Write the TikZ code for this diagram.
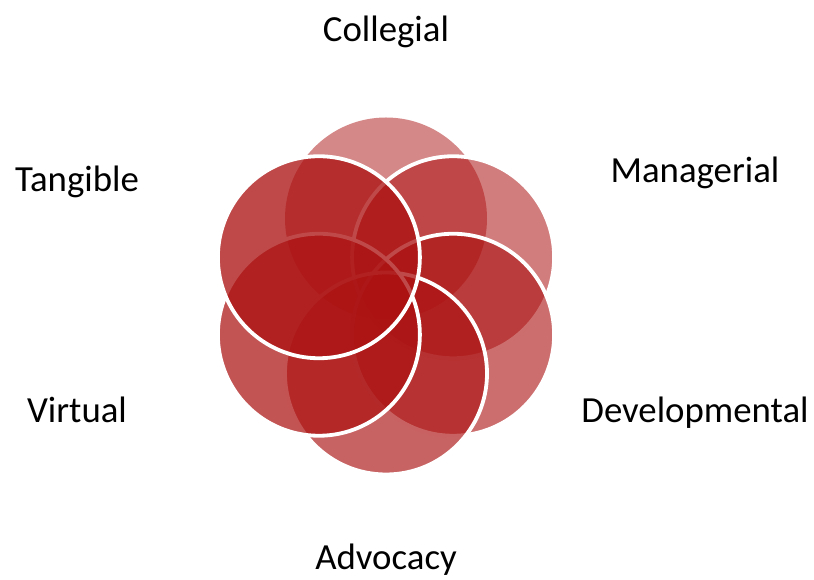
\documentclass[tikz,border=0pt]{standalone}
\usepackage{fontspec}
\setmainfont{Carlito}
\usetikzlibrary{calc}
\definecolor{petalred}{RGB}{172,18,18}
\tikzset{
  petal/.style={circle,fill=petalred,minimum size=202pt,inner sep=0pt},
  rim/.style={draw=white,line width=3.8pt},
  catlabel/.style={anchor=base,font=\fontsize{36.8}{44}\selectfont}
}

\begin{document}
\begin{tikzpicture}[x=1pt,y=1pt]
      \useasboundingbox (0,0) rectangle (814,580);
      \coordinate (C) at (386,284);
      % petals, back to front
      \node[petal,fill opacity=0.50] (P1) at ($(C)+(90:77.5)$) {};
      \foreach \ang/\op/\nm in {30/0.55/P2,-30/0.61/P3,-90/0.66/P4,-150/0.72/P5,150/0.77/P6}
        \node[petal,rim,fill opacity=\op] (\nm) at ($(C)+(\ang:77.5)$) {};
      % labels
      \node[catlabel] (collegial) at (386,538) {Collegial};
      \node[catlabel] (managerial) at (695,397) {Managerial};
      \node[catlabel] (developmental) at (695,157) {Developmental};
      \node[catlabel] (advocacy) at (386,10) {Advocacy};
      \node[catlabel] (virtual) at (77,157) {Virtual};
      \node[catlabel] (tangible) at (77,388) {Tangible};
    \end{tikzpicture}
\end{document}
